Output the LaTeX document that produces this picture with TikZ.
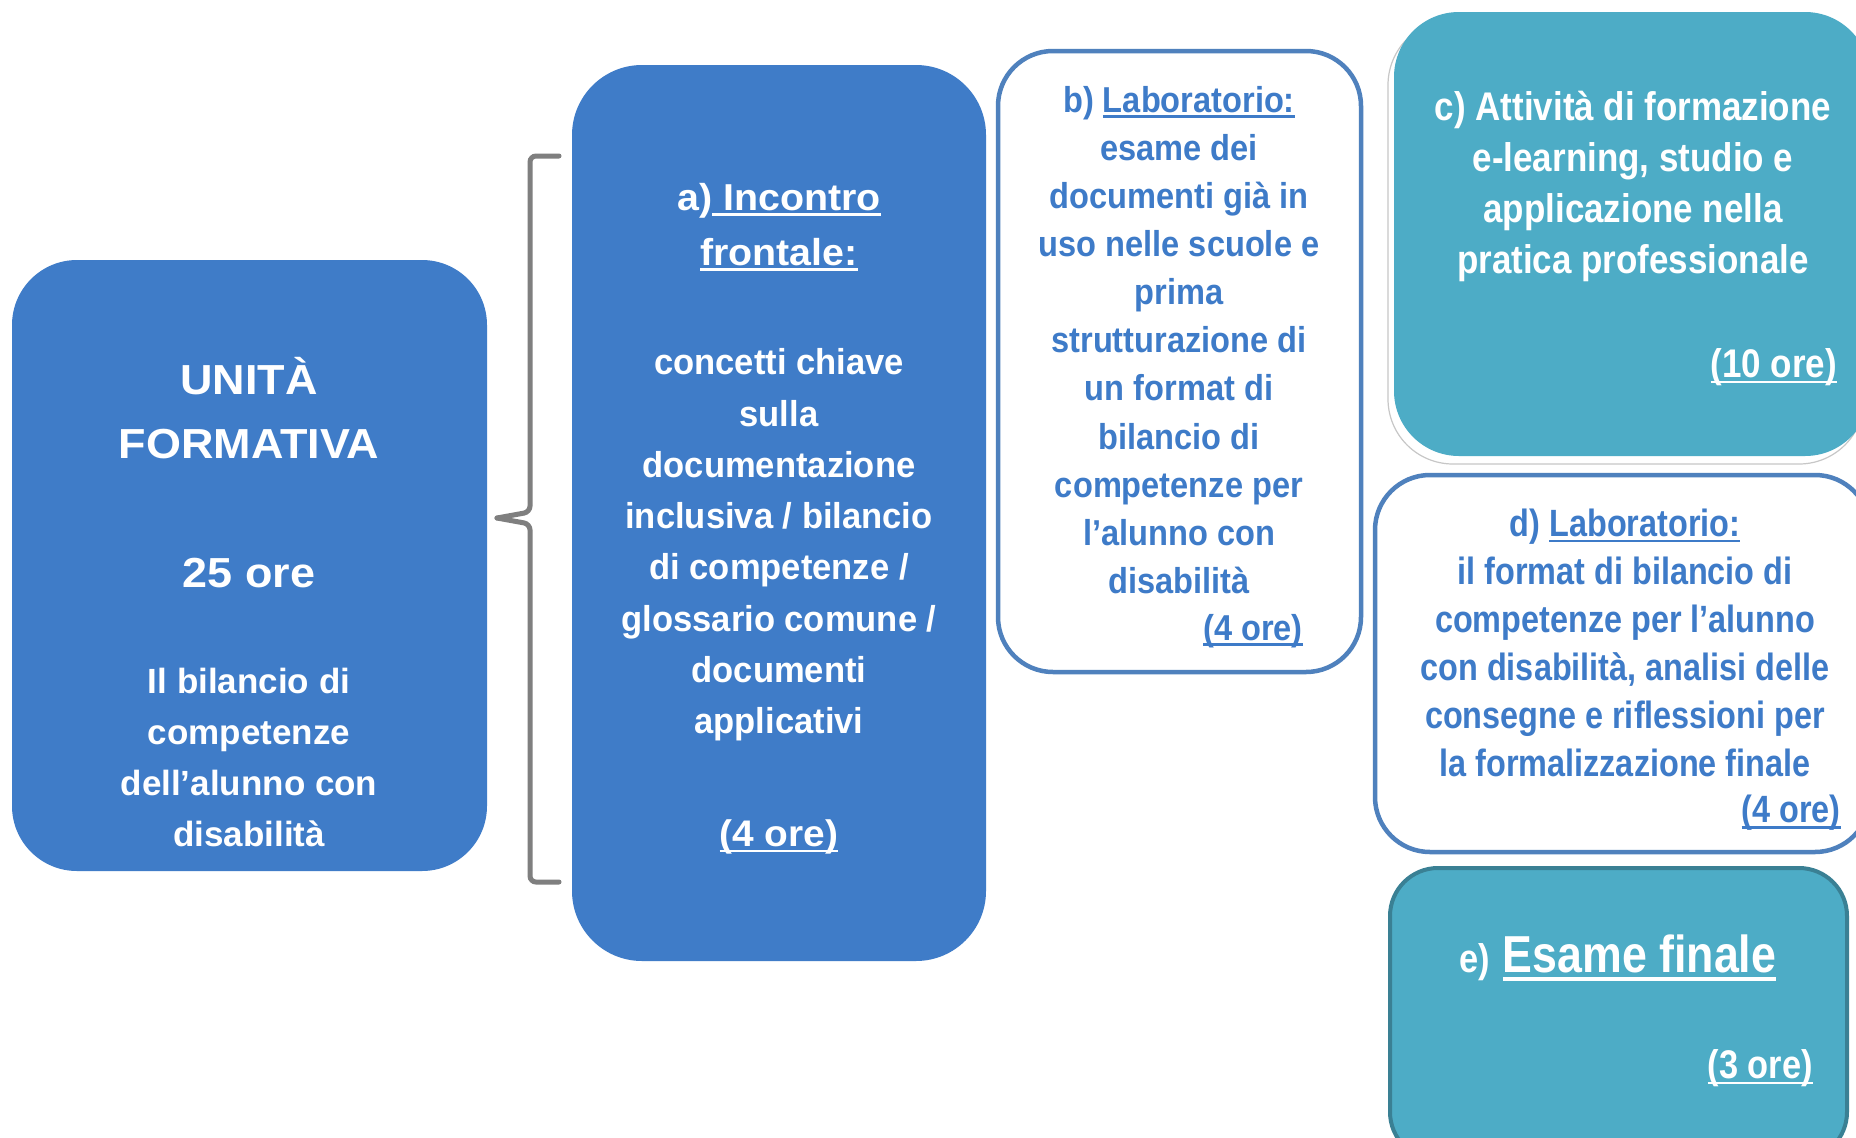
\documentclass[tikz,border=0pt]{standalone}
\usepackage{fontspec}
\setmainfont{Liberation Sans}
\newfontfamily\fnU{Liberation Sans}[FakeStretch=1.07]
\newfontfamily\fnT{Liberation Sans}[FakeStretch=1.05]
\newfontfamily\fnA{Liberation Sans}[FakeStretch=0.96]
\newfontfamily\fnB{Liberation Sans}[FakeStretch=0.905]
\newfontfamily\fnC{Liberation Sans}[FakeStretch=0.874]
\newfontfamily\fnD{Liberation Sans}[FakeStretch=0.853]
\newfontfamily\fnE{Liberation Sans}[FakeStretch=0.86]
\newsavebox{\myulbox}
\newcommand{\myul}[1]{\sbox{\myulbox}{#1}\rlap{\rule[-0.15em]{\wd\myulbox}{0.07em}}\usebox{\myulbox}}
\definecolor{blueF}{RGB}{63,124,200}
\definecolor{blueB}{RGB}{79,129,189}
\definecolor{blueT}{RGB}{62,123,200}
\definecolor{tealF}{RGB}{77,172,198}
\definecolor{tealB}{RGB}{58,128,148}
\definecolor{brk}{RGB}{127,127,127}
\begin{document}
\begin{tikzpicture}[x=1pt,y=-1pt,
  bx/.style={rectangle, inner sep=0pt},
  txt/.style={inner sep=0pt, align=center},
  wt/.style={txt, text=white},
  bt/.style={txt, text=blueT}]
\useasboundingbox (0,0) rectangle (1856,1138);
\clip (0,0) rectangle (1856,1138);
\fill[white] (0,0) rectangle (1856,1138);
% boxes
\node[bx, fill=blueF, rounded corners=65pt, minimum width=475pt, minimum height=611pt] (u) at (249.5,565.5) {};
\node[bx, fill=blueF, rounded corners=70pt, minimum width=414pt, minimum height=896pt] (a) at (779,513) {};
\node[bx, fill=white, draw=blueB, line width=4.5pt, rounded corners=55pt, minimum width=363pt, minimum height=621pt] (b) at (1179.5,361.5) {};
\node[bx, fill=white, draw=black!22, line width=1.2pt, rounded corners=65pt, minimum width=476pt, minimum height=444pt] (cs) at (1626,242) {};
\node[bx, fill=tealF, rounded corners=65pt, minimum width=476pt, minimum height=444pt] (c) at (1632,234) {};
\node[bx, fill=white, draw=blueB, line width=4.5pt, rounded corners=55pt, minimum width=495pt, minimum height=377pt] (d) at (1622.5,663.5) {};
\node[bx, fill=tealF, draw=tealB, line width=4pt, rounded corners=48pt, minimum width=457pt, minimum height=292pt] (e) at (1618.5,1014) {};
% bracket
\draw[brk, line width=5pt, line cap=round, rounded corners=6pt] (559,156) -- (530,156) -- (530,512) -- (497,518);
\draw[brk, line width=5pt, line cap=round, rounded corners=6pt] (497,518) -- (530,524) -- (530,882) -- (559,882);
% box 1 text
\node[wt, font=\fnU\bfseries\fontsize{42}{64}\selectfont] (uT) at (249,408) {UNITÀ\\FORMATIVA};
\node[wt, font=\fnU\bfseries\fontsize{42}{64}\selectfont] (uH) at (249,573) {25 ore};
\node[wt, font=\bfseries\fontsize{35}{51}\selectfont] (uB) at (249,757) {Il bilancio di\\competenze\\dell’alunno con\\disabilità};
% box a text
\node[wt, font=\fnT\bfseries\fontsize{37.5}{55}\selectfont] (aT) at (779,227) {a)\myul{\ Incontro}\\\myul{frontale:}};
\node[wt, font=\fnA\bfseries\fontsize{36}{51.3}\selectfont] (aB) at (779,545) {concetti chiave\\sulla\\documentazione\\inclusiva / bilancio\\di competenze /\\glossario comune /\\documenti\\applicativi};
\node[wt, font=\fnT\bfseries\fontsize{37}{50}\selectfont] (aH) at (779,837) {\myul{(4 ore)}};
% box b text
\node[bt, font=\fnB\bfseries\fontsize{36}{48.1}\selectfont] (bB) at (1179,340) {b) \myul{Laboratorio:}\\esame dei\\documenti già in\\uso nelle scuole e\\prima\\strutturazione di\\un format di\\bilancio di\\competenze per\\l’alunno con\\disabilità};
\node[bt, anchor=east, font=\fnB\bfseries\fontsize{36}{48}\selectfont] (bH) at (1303,631) {\myul{(4 ore)}};
% box c text
\node[wt, font=\fnC\bfseries\fontsize{40}{51}\selectfont] (cB) at (1633,186) {c) Attività di formazione\\e-learning, studio e\\applicazione nella\\pratica professionale};
\node[wt, anchor=east, font=\fnC\bfseries\fontsize{40}{51}\selectfont] (cH) at (1837,367) {\myul{(10 ore)}};
% box d text
\node[bt, font=\fnD\bfseries\fontsize{38}{48}\selectfont] (dB) at (1625,643) {d) \myul{Laboratorio:}\\il format di bilancio di\\competenze per l’alunno\\con disabilità, analisi delle\\consegne e riflessioni per\\la formalizzazione finale};
\node[bt, anchor=east, font=\fnD\bfseries\fontsize{38}{48}\selectfont] (dH) at (1841,813) {\myul{(4 ore)}};
% box e text
\node[wt, font=\fnE\bfseries\fontsize{52}{60}\selectfont] (eT) at (1618,958) {{\fontsize{40}{40}\selectfont e)} \myul{Esame finale}};
\node[wt, anchor=east, font=\fnE\bfseries\fontsize{40}{48}\selectfont] (eH) at (1813,1068) {\myul{(3 ore)}};
\end{tikzpicture}
\end{document}
